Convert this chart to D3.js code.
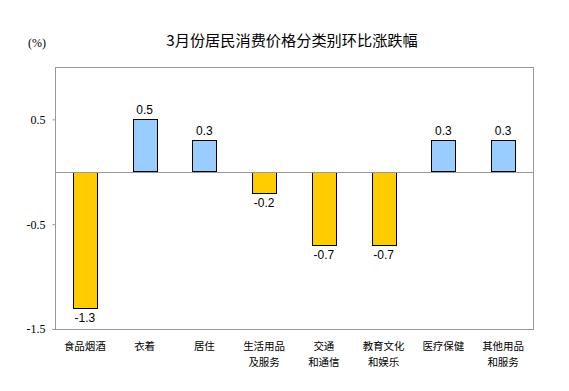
<!DOCTYPE html>
<html><head><meta charset="utf-8">
<script src="https://cdn.jsdelivr.net/npm/d3@7/dist/d3.min.js"></script>
<style>body{margin:0;background:#fff}svg{display:block}</style>
</head><body>
<svg id="c" width="569" height="391"></svg>
<script>
const categories = [["食品烟酒"],["衣着"],["居住"],["生活用品","及服务"],["交通","和通信"],["教育文化","和娱乐"],["医疗保健"],["其他用品","和服务"]];
const values = [-1.3, 0.5, 0.3, -0.2, -0.7, -0.7, 0.3, 0.3];
const yTicks = [0.5, -0.5, -1.5];
const title = "3月份居民消费价格分类别环比涨跌幅";
const unit = "(%)";

const fmt = d => d3.format(".1f")(d).replace("\u2212", "-");
const svg = d3.select("#c");
const L = 55, R = 533, T = 67, B = 329;
const x = d3.scaleBand().domain(d3.range(values.length)).range([L, R]).paddingInner(0.6).paddingOuter(0.3);
const y = d3.scaleLinear().domain([-1.5, 1.0]).range([B, T]);

svg.append("rect").attr("x", L + 0.5).attr("y", T + 0.5).attr("width", R - L).attr("height", B - T)
  .attr("fill", "none").attr("stroke", "#999");

const ax = svg.append("g").attr("transform", `translate(${L + 0.5},0)`)
  .call(d3.axisLeft(y).tickValues(yTicks).tickSize(3).tickFormat(fmt));
ax.select(".domain").remove();
ax.selectAll("line").attr("stroke", "#999");
ax.selectAll("text").attr("font-family", "Liberation Serif, serif").attr("font-size", 12).attr("fill", "#000").attr("x", -10);

svg.selectAll("rect.bar").data(values).join("rect").attr("class", "bar")
  .attr("x", (d, i) => Math.round(x(i)) + 0.5)
  .attr("width", Math.round(x.bandwidth()))
  .attr("y", d => Math.round(y(Math.max(0, d))) + 0.5)
  .attr("height", d => Math.round(Math.abs(y(d) - y(0))))
  .attr("fill", d => d < 0 ? "#FFCC00" : "#99CCFF")
  .attr("stroke", "#000");

svg.append("line").attr("x1", L).attr("x2", R).attr("y1", Math.round(y(0)) + 0.5).attr("y2", Math.round(y(0)) + 0.5).attr("stroke", "#999");

svg.selectAll("text.val").data(values).join("text").attr("class", "val")
  .attr("x", (d, i) => x(i) + x.bandwidth() / 2)
  .attr("y", d => d < 0 ? y(d) + 14 : y(d) - 5)
  .attr("text-anchor", "middle").attr("font-family", "Liberation Sans, Arial, sans-serif").attr("font-size", 12)
  .text(fmt);

const catLines = categories.flatMap((lines, i) => lines.map((l, j) => ({ l, i, j })));
svg.selectAll("text.cat").data(catLines).join("text").attr("class", "cat")
  .attr("text-anchor", "middle").attr("font-family", "Noto Sans CJK SC, sans-serif").attr("font-size", 10.5)
  .attr("x", d => x(d.i) + x.bandwidth() / 2).attr("y", d => 350 + d.j * 15.5).text(d => d.l);

svg.append("text").attr("x", 292).attr("y", 45.5).attr("text-anchor", "middle")
  .attr("font-family", "Noto Sans CJK SC, sans-serif").attr("font-size", 15.2).text(title);
svg.append("text").attr("x", 37).attr("y", 47).attr("text-anchor", "middle")
  .attr("font-family", "Liberation Serif, serif").attr("font-size", 12).text(unit);
</script>
</body></html>
